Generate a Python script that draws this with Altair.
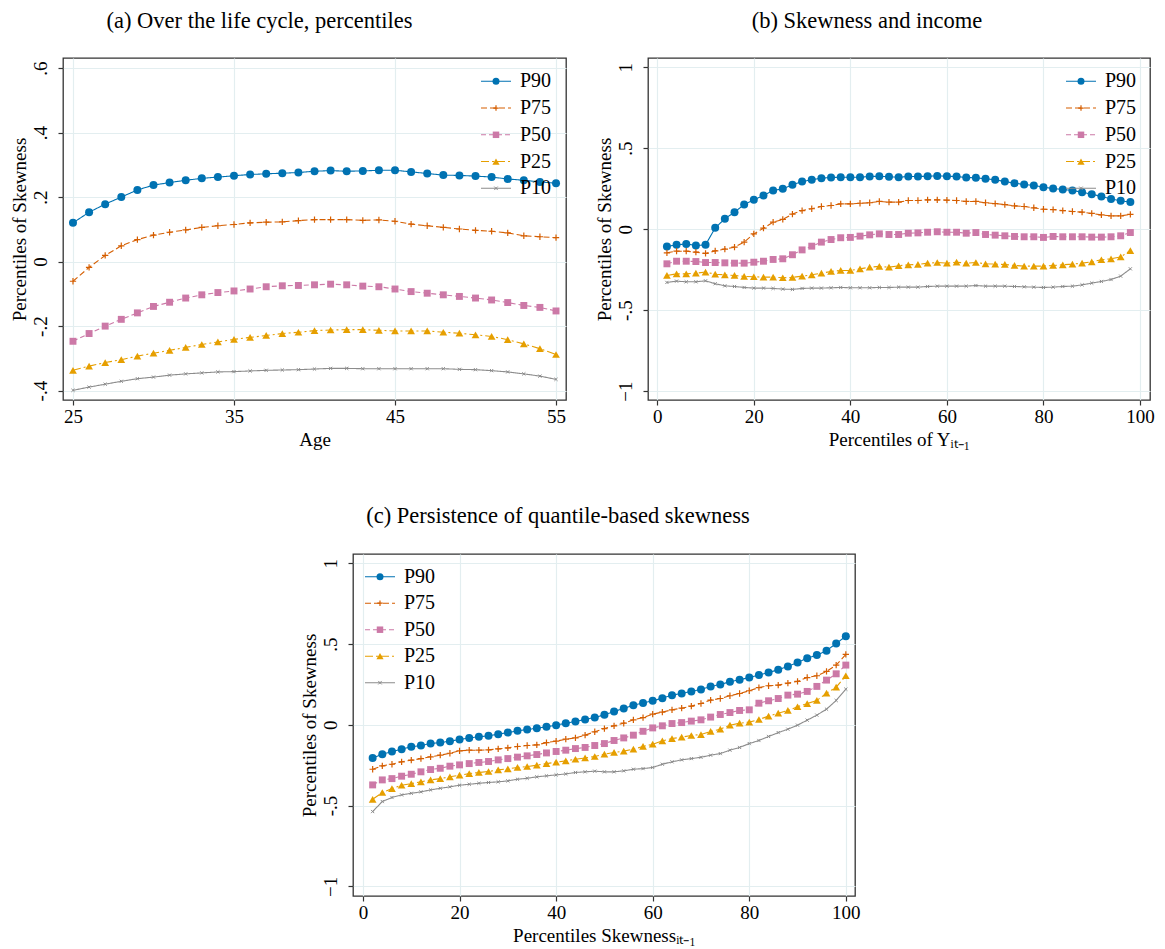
import altair as alt
import pandas as pd

SERIES = ["P90", "P75", "P50", "P25", "P10"]
COLORS = ["#0072B2", "#D55E00", "#CC79A7", "#E69F00", "#8C8C8C"]
DASHES = [[1, 0], [6, 3], [5, 3], [8, 3, 2, 3], [1, 0]]

# ---- panel (a): over the life cycle ----
age = [25, 26, 27, 28, 29, 30, 31, 32, 33, 34, 35, 36, 37, 38, 39, 40,
       41, 42, 43, 44, 45, 46, 47, 48, 49, 50, 51, 52, 53, 54, 55]
a_p90 = [0.120, 0.153, 0.178, 0.200, 0.222, 0.237, 0.245, 0.252, 0.258, 0.262, 0.266,
         0.270, 0.272, 0.274, 0.276, 0.280, 0.282, 0.280, 0.281, 0.283, 0.283, 0.278,
         0.273, 0.268, 0.267, 0.265, 0.262, 0.256, 0.252, 0.247, 0.243]
a_p75 = [-0.061, -0.018, 0.019, 0.049, 0.068, 0.082, 0.091, 0.098, 0.106, 0.111, 0.115,
         0.120, 0.122, 0.123, 0.127, 0.130, 0.130, 0.130, 0.128, 0.129, 0.125, 0.116,
         0.111, 0.106, 0.101, 0.097, 0.094, 0.089, 0.080, 0.077, 0.074]
a_p50 = [-0.247, -0.223, -0.200, -0.179, -0.159, -0.139, -0.126, -0.113, -0.103, -0.096,
         -0.091, -0.085, -0.078, -0.075, -0.074, -0.072, -0.070, -0.072, -0.076, -0.078,
         -0.085, -0.093, -0.098, -0.103, -0.108, -0.113, -0.119, -0.127, -0.136, -0.142, -0.153]
a_p25 = [-0.337, -0.324, -0.313, -0.304, -0.293, -0.284, -0.275, -0.266, -0.257, -0.249,
         -0.241, -0.235, -0.229, -0.223, -0.219, -0.214, -0.212, -0.211, -0.211, -0.213,
         -0.215, -0.215, -0.215, -0.219, -0.222, -0.227, -0.232, -0.242, -0.255, -0.270, -0.288]
a_p10 = [-0.399, -0.389, -0.380, -0.371, -0.363, -0.358, -0.352, -0.348, -0.345, -0.342,
         -0.341, -0.339, -0.337, -0.336, -0.335, -0.333, -0.331, -0.331, -0.332, -0.332,
         -0.332, -0.332, -0.332, -0.332, -0.334, -0.335, -0.338, -0.342, -0.348, -0.355, -0.365]

# ---- panel (b): skewness and income ----
pct_b = [2, 4, 6, 8, 10, 12, 14, 16, 18, 20, 22, 24, 26, 28, 30, 32, 34, 36, 38, 40,
         42, 44, 46, 48, 50, 52, 54, 56, 58, 60, 62, 64, 66, 68, 70, 72, 74, 76, 78, 80,
         82, 84, 86, 88, 90, 92, 94, 96, 98]
b_p90 = [-0.107, -0.097, -0.091, -0.101, -0.097, 0.008, 0.064, 0.105, 0.152, 0.181,
         0.208, 0.239, 0.249, 0.274, 0.294, 0.305, 0.315, 0.319, 0.321, 0.321, 0.321,
         0.325, 0.327, 0.323, 0.321, 0.325, 0.325, 0.327, 0.329, 0.327, 0.325, 0.319,
         0.317, 0.311, 0.305, 0.294, 0.284, 0.276, 0.270, 0.259, 0.251, 0.245, 0.239,
         0.228, 0.216, 0.202, 0.187, 0.175, 0.167]
b_p75 = [-0.146, -0.136, -0.136, -0.142, -0.150, -0.134, -0.123, -0.111, -0.080, -0.029,
         0.006, 0.043, 0.060, 0.093, 0.115, 0.126, 0.140, 0.146, 0.156, 0.156, 0.160,
         0.163, 0.171, 0.167, 0.167, 0.177, 0.177, 0.181, 0.181, 0.179, 0.177, 0.171,
         0.171, 0.163, 0.158, 0.152, 0.144, 0.140, 0.132, 0.123, 0.121, 0.115, 0.109,
         0.105, 0.097, 0.088, 0.082, 0.082, 0.091]
b_p50 = [-0.214, -0.198, -0.198, -0.200, -0.206, -0.206, -0.208, -0.210, -0.210, -0.204,
         -0.198, -0.187, -0.183, -0.158, -0.128, -0.105, -0.080, -0.064, -0.053, -0.051,
         -0.043, -0.035, -0.029, -0.033, -0.033, -0.025, -0.023, -0.019, -0.016, -0.019,
         -0.019, -0.025, -0.021, -0.033, -0.037, -0.041, -0.045, -0.047, -0.047, -0.051,
         -0.045, -0.047, -0.047, -0.047, -0.049, -0.049, -0.047, -0.041, -0.021]
b_p25 = [-0.286, -0.276, -0.276, -0.272, -0.265, -0.278, -0.282, -0.286, -0.292, -0.294,
         -0.296, -0.296, -0.300, -0.298, -0.290, -0.282, -0.272, -0.261, -0.255, -0.255,
         -0.245, -0.235, -0.230, -0.235, -0.226, -0.220, -0.218, -0.210, -0.206, -0.210,
         -0.204, -0.210, -0.206, -0.214, -0.216, -0.218, -0.224, -0.228, -0.228, -0.228,
         -0.224, -0.220, -0.216, -0.210, -0.202, -0.189, -0.183, -0.171, -0.132]
b_p10 = [-0.329, -0.321, -0.325, -0.325, -0.319, -0.337, -0.350, -0.354, -0.360, -0.364,
         -0.364, -0.366, -0.370, -0.372, -0.366, -0.364, -0.364, -0.362, -0.360, -0.362,
         -0.362, -0.362, -0.360, -0.360, -0.358, -0.358, -0.358, -0.354, -0.352, -0.352,
         -0.352, -0.352, -0.348, -0.352, -0.352, -0.352, -0.354, -0.356, -0.358, -0.360,
         -0.358, -0.354, -0.352, -0.344, -0.333, -0.323, -0.311, -0.290, -0.245]

# ---- panel (c): persistence ----
pct_c = [2, 4, 6, 8, 10, 12, 14, 16, 18, 20, 22, 24, 26, 28, 30, 32, 34, 36, 38, 40,
         42, 44, 46, 48, 50, 52, 54, 56, 58, 60, 62, 64, 66, 68, 70, 72, 74, 76, 78, 80,
         82, 84, 86, 88, 90, 92, 94, 96, 98, 100]
c_p90 = [-0.205, -0.182, -0.165, -0.151, -0.136, -0.128, -0.116, -0.110, -0.101, -0.091,
         -0.081, -0.074, -0.068, -0.058, -0.048, -0.037, -0.029, -0.021, -0.012, -0.002,
         0.010, 0.021, 0.033, 0.046, 0.062, 0.083, 0.101, 0.122, 0.136, 0.149, 0.165,
         0.184, 0.194, 0.207, 0.219, 0.238, 0.250, 0.267, 0.279, 0.293, 0.308, 0.324,
         0.341, 0.362, 0.386, 0.413, 0.432, 0.459, 0.504, 0.548]
c_p75 = [-0.275, -0.254, -0.244, -0.229, -0.219, -0.209, -0.198, -0.188, -0.176, -0.161,
         -0.157, -0.157, -0.155, -0.149, -0.143, -0.134, -0.128, -0.124, -0.110, -0.101,
         -0.089, -0.081, -0.064, -0.043, -0.023, -0.006, 0.010, 0.031, 0.045, 0.066,
         0.079, 0.093, 0.103, 0.116, 0.132, 0.153, 0.163, 0.180, 0.194, 0.211, 0.231,
         0.242, 0.246, 0.258, 0.269, 0.293, 0.304, 0.331, 0.370, 0.436]
c_p50 = [-0.372, -0.341, -0.333, -0.318, -0.306, -0.291, -0.277, -0.269, -0.256, -0.248,
         -0.240, -0.233, -0.227, -0.217, -0.209, -0.200, -0.192, -0.184, -0.174, -0.165,
         -0.157, -0.147, -0.140, -0.128, -0.116, -0.097, -0.081, -0.064, -0.040, -0.019,
         -0.006, 0.008, 0.014, 0.023, 0.031, 0.048, 0.064, 0.076, 0.089, 0.093, 0.134,
         0.149, 0.163, 0.184, 0.190, 0.207, 0.238, 0.277, 0.316, 0.370]
c_p25 = [-0.461, -0.419, -0.395, -0.374, -0.364, -0.353, -0.341, -0.333, -0.322, -0.312,
         -0.302, -0.295, -0.289, -0.279, -0.273, -0.264, -0.258, -0.250, -0.240, -0.231,
         -0.223, -0.213, -0.205, -0.196, -0.182, -0.171, -0.163, -0.151, -0.134, -0.120,
         -0.099, -0.085, -0.076, -0.066, -0.060, -0.041, -0.027, -0.002, 0.010, 0.017,
         0.033, 0.054, 0.072, 0.089, 0.112, 0.132, 0.151, 0.196, 0.233, 0.304]
c_p10 = [-0.537, -0.475, -0.450, -0.434, -0.424, -0.415, -0.403, -0.393, -0.384, -0.374,
         -0.368, -0.362, -0.357, -0.353, -0.347, -0.337, -0.331, -0.322, -0.316, -0.310,
         -0.304, -0.295, -0.291, -0.287, -0.291, -0.291, -0.285, -0.275, -0.271, -0.264,
         -0.244, -0.229, -0.217, -0.209, -0.201, -0.188, -0.178, -0.157, -0.140, -0.116,
         -0.097, -0.072, -0.048, -0.027, -0.002, 0.029, 0.060, 0.097, 0.151, 0.221]

FONT = "Liberation Serif"

MARKERS = {
    "P90": dict(shape="circle", filled=True, size=64, strokeWidth=0),
    "P75": dict(shape="M-1,0L1,0M0,-1L0,1", filled=False, size=40, strokeWidth=1.2),
    "P50": dict(shape="square", filled=True, size=48, strokeWidth=0),
    "P25": dict(shape="triangle-up", filled=True, size=60, strokeWidth=0),
    "P10": dict(shape="M-1,-1L1,1M-1,1L1,-1", filled=False, size=10, strokeWidth=1.0),
}
LEG_MARKER_SIZE = {"P90": 49, "P75": 30, "P50": 42, "P25": 52, "P10": 12}

LABEL_EXPR = ("datum.value == 0 ? '0' : (abs(datum.value) >= 1 ? format(datum.value, 'd') : "
              "(datum.value < 0 ? '-' : '') + substring(format(abs(datum.value), '.1f'), 1))")

INDEP = dict(color="independent", strokeDash="independent")


def long_df(xs, cols):
    rows = []
    for name, vals in zip(SERIES, cols):
        for x, v in zip(xs, vals):
            rows.append({"x": x, "y": v, "series": name})
    return pd.DataFrame(rows)


def legend_layers(sx, tx, y0, dy):
    """Key drawn inside the plot: line sample, marker and label for every series."""
    out = []
    for i, (name, col, dash) in enumerate(zip(SERIES, COLORS, DASHES)):
        yy = y0 + i * dy
        entry = alt.Chart(pd.DataFrame({"series": [name]}))
        m = MARKERS[name]
        out.append(entry.mark_rule(color=col, strokeWidth=1.1, strokeDash=dash).encode(
            x=alt.value(sx - 15), x2=alt.value(sx + 15), y=alt.value(yy)))
        out.append(entry.mark_point(shape=m["shape"], filled=m["filled"], size=LEG_MARKER_SIZE[name],
                                    strokeWidth=m["strokeWidth"], color=col, opacity=1).encode(
            x=alt.value(sx), y=alt.value(yy)))
        out.append(entry.mark_text(align="left", baseline="middle", font=FONT, fontSize=20,
                                   color="black").encode(
            x=alt.value(tx), y=alt.value(yy), text=alt.Text("series:N")))
    return out


def panel(df, title, title_dx, title_offset, xdom, xticks, xtitle, ydom, yticks, key, w, h):
    base = alt.Chart(df)
    x = alt.X("x:Q", scale=alt.Scale(domain=xdom, nice=False, zero=False),
              axis=alt.Axis(values=xticks, title=xtitle, format="d"))
    y = alt.Y("y:Q", scale=alt.Scale(domain=ydom, nice=False, zero=False),
              axis=alt.Axis(values=yticks, title="Percentiles of Skewness", labelExpr=LABEL_EXPR))

    lines = base.mark_line(strokeWidth=1.1).encode(
        x=x, y=y,
        color=alt.Color("series:N", scale=alt.Scale(domain=SERIES, range=COLORS), legend=None),
        strokeDash=alt.StrokeDash("series:N", scale=alt.Scale(domain=SERIES, range=DASHES), legend=None),
    )
    layers = [lines]
    for name, col in zip(SERIES, COLORS):
        m = MARKERS[name]
        layers.append(
            base.transform_filter(alt.datum.series == name).mark_point(
                shape=m["shape"], filled=m["filled"], size=m["size"],
                strokeWidth=m["strokeWidth"], color=col, opacity=1,
            ).encode(x=x, y=y)
        )
    layers += legend_layers(*key)
    return alt.layer(*layers).properties(
        width=w, height=h,
        title=alt.Title(title, anchor="middle", dx=title_dx, offset=title_offset),
    )


df_a = long_df(age, [a_p90, a_p75, a_p50, a_p25, a_p10])
df_b = long_df(pct_b, [b_p90, b_p75, b_p50, b_p25, b_p10])
df_c = long_df(pct_c, [c_p90, c_p75, c_p50, c_p25, c_p10])

pa = panel(df_a, "(a) Over the life cycle, percentiles", -55, 26,
           [24.38, 55.62], [25, 35, 45, 55], "Age",
           [-0.429, 0.631], [-0.4, -0.2, 0, 0.2, 0.4, 0.6], (433, 457, 23.3, 26.75), 503, 342)
pb = panel(df_b, "(b) Skewness and income", -32, 26,
           [-1.92, 102.07], [0, 20, 40, 60, 80, 100], "Percentiles of Y\u1d62\u209c\u208b\u2081",
           [-1.055, 1.057], [-1, -0.5, 0, 0.5, 1], (433, 457, 23.3, 26.75), 502, 342)
pc = panel(df_c, "(c) Persistence of quantile-based skewness", -46, 27,
           [-2.07, 101.9], [0, 20, 40, 60, 80, 100], "Percentiles Skewness\u1d62\u209c\u208b\u2081",
           [-1.06, 1.058], [-1, -0.5, 0, 0.5, 1], (27, 51, 22.7, 26.5), 502, 342)

spacer = alt.Chart(pd.DataFrame({"v": [0]})).mark_point(opacity=0).encode(
    x=alt.X("v:Q", axis=None), y=alt.Y("v:Q", axis=None)
).properties(width=225, height=20, view=alt.ViewConfig(stroke="transparent"))

top = alt.hconcat(pa, pb, spacing=27).resolve_scale(**INDEP)
bottom = alt.hconcat(spacer, pc, spacing=10).resolve_scale(**INDEP)
chart = alt.vconcat(top, bottom, spacing=53).resolve_scale(**INDEP).properties(
    padding={"left": 1, "top": 0, "right": 0, "bottom": 0}
).configure(font=FONT).configure_view(
    stroke="#333333", strokeWidth=1.3
).configure_axis(
    grid=True, gridColor="#e3eef0", gridWidth=1.2,
    domain=False, ticks=True, tickColor="#333333", tickSize=5, tickWidth=1.2,
    labelFont=FONT, labelFontSize=19, labelColor="black",
    titleFont=FONT, titleFontSize=19, titleFontWeight="normal", titleColor="black",
).configure_axisX(
    labelPadding=2, titlePadding=4,
).configure_axisY(
    labelAngle=270, labelAlign="center", labelBaseline="alphabetic", labelPadding=12, titlePadding=2,
).configure_title(
    font=FONT, fontSize=22.5, fontWeight="normal", color="black",
)

chart.save("out.html", embed_options={"renderer": "svg", "actions": False})
